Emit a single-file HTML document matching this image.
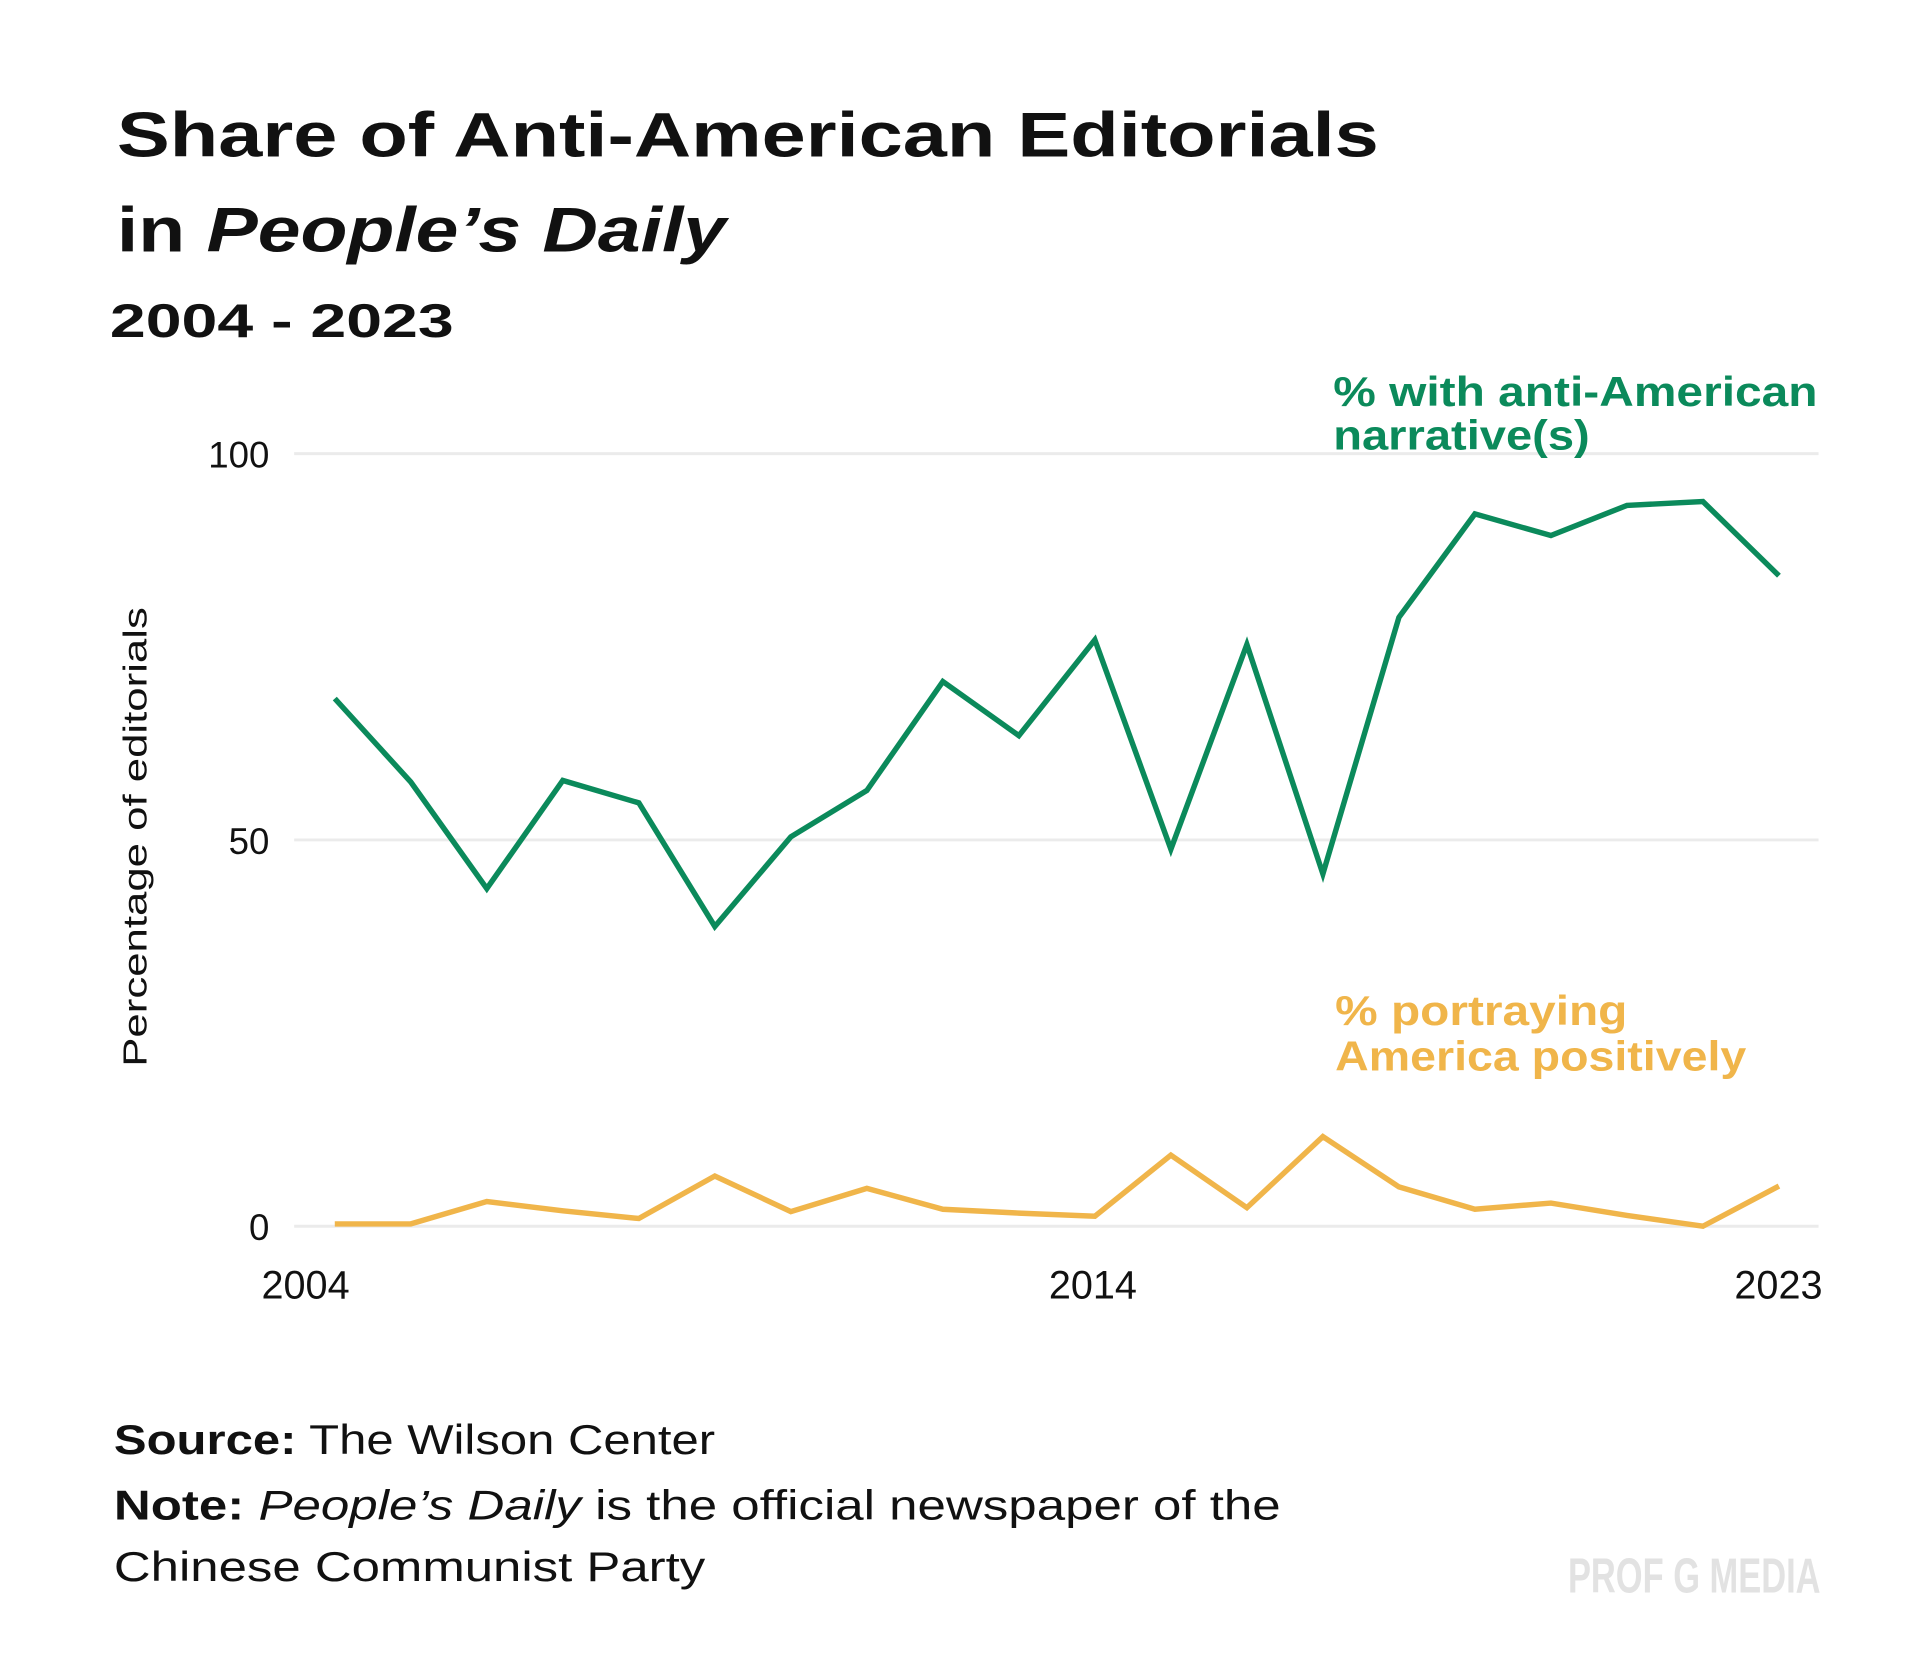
<!DOCTYPE html>
<html><head><meta charset="utf-8"><style>
html,body{margin:0;padding:0;background:#fff;}
svg{display:block;font-family:"Liberation Sans",sans-serif;}
</style></head><body>
<svg id="chart" width="1920" height="1675" viewBox="0 0 1920 1675" xmlns="http://www.w3.org/2000/svg">
<rect width="1920" height="1675" fill="#fff"/>
<g transform="scale(0.9905)">
<text x="118" y="158" font-size="64" font-weight="bold" fill="#111" textLength="1274" lengthAdjust="spacingAndGlyphs">Share of Anti-American Editorials</text>
<text x="118" y="254" font-size="64" font-weight="bold" fill="#111" textLength="615" lengthAdjust="spacingAndGlyphs">in <tspan font-style="italic">People’s Daily</tspan></text>
<text x="111" y="340" font-size="48" font-weight="bold" fill="#111" textLength="347" lengthAdjust="spacingAndGlyphs">2004 - 2023</text>
<g id="grid"></g>
<g id="yticks"></g>
<g id="xticks"></g>
<text transform="translate(148,845) rotate(-90)" text-anchor="middle" font-size="34" fill="#111" textLength="464" lengthAdjust="spacingAndGlyphs">Percentage of editorials</text>
<g id="series"></g>
<text x="1346" y="410" font-size="42" font-weight="bold" fill="#0b8a5b" textLength="489" lengthAdjust="spacingAndGlyphs">% with anti-American</text>
<text x="1346" y="454" font-size="42" font-weight="bold" fill="#0b8a5b" textLength="259" lengthAdjust="spacingAndGlyphs">narrative(s)</text>
<text x="1348" y="1035" font-size="42" font-weight="bold" fill="#f0b54a" textLength="295" lengthAdjust="spacingAndGlyphs">% portraying</text>
<text x="1348" y="1081" font-size="42" font-weight="bold" fill="#f0b54a" textLength="415" lengthAdjust="spacingAndGlyphs">America positively</text>
<text x="115" y="1468" font-size="42" fill="#111" textLength="607" lengthAdjust="spacingAndGlyphs"><tspan font-weight="bold">Source:</tspan> The Wilson Center</text>
<text x="115" y="1534" font-size="42" fill="#111" textLength="1178" lengthAdjust="spacingAndGlyphs"><tspan font-weight="bold">Note:</tspan> <tspan font-style="italic">People’s Daily</tspan> is the official newspaper of the</text>
<text x="115" y="1596" font-size="42" fill="#111" textLength="597" lengthAdjust="spacingAndGlyphs">Chinese Communist Party</text>
<text x="1583" y="1608" font-size="50" font-weight="bold" fill="#e2e2e2" textLength="255" lengthAdjust="spacingAndGlyphs">PROF G MEDIA</text>
</g>
</svg>
<script>
const years = [2004,2005,2006,2007,2008,2009,2010,2011,2012,2013,2014,2015,2016,2017,2018,2019,2020,2021,2022,2023];
const antiAmerican = [68.3,57.5,43.7,57.7,54.8,38.8,50.4,56.4,70.5,63.5,75.9,48.8,75.3,45.6,78.8,92.2,89.4,93.3,93.8,84.2];
const positive = [0.3,0.3,3.2,2.0,1.0,6.5,1.9,4.9,2.2,1.7,1.3,9.2,2.4,11.6,5.1,2.2,3.0,1.4,0.0,5.2];
const yTicks = [0,50,100];
const xTickYears = [2004,2014,2023];

const NS = "http://www.w3.org/2000/svg";
const xScale = y => 338 + (y - 2004) * (1796 - 338) / 19;
const yScale = v => 1238 - v * (1238 - 458) / 100;
function mk(tag, attrs, parent){const e=document.createElementNS(NS,tag);for(const k in attrs)e.setAttribute(k,attrs[k]);parent.appendChild(e);return e;}

const grid=document.getElementById('grid'), yt=document.getElementById('yticks'), xt=document.getElementById('xticks'), ser=document.getElementById('series');
yTicks.forEach(v=>{
  const l=mk('line',{x1:297,x2:1836,y1:yScale(v),y2:yScale(v),stroke:'#ebebeb','stroke-width':3},grid);
  
  
  const t=mk('text',{x:272,y:yScale(v)+14,'text-anchor':'end','font-size':37,fill:'#111'},yt);
  t.textContent=v;
  
  
});
xTickYears.forEach((yr,i)=>{
  const anchor = i===0?'start':(i===xTickYears.length-1?'end':'middle');
  const x = i===0?264:(i===xTickYears.length-1?1840:xScale(yr)-2);
  const t=mk('text',{x:x,y:1311,'text-anchor':anchor,'font-size':40,fill:'#111'},xt);
  t.textContent=yr;
  
  
});
function line(vals,color,name){
  const p=mk('polyline',{points:vals.map((v,i)=>xScale(years[i])+','+yScale(v)).join(' '),fill:'none',stroke:color,'stroke-width':5.5,'stroke-linejoin':'miter'},ser);
  
  
}
line(positive,'#f0b54a','line-positive');
line(antiAmerican,'#0b8a5b','line-anti-american');
</script>
</body></html>
